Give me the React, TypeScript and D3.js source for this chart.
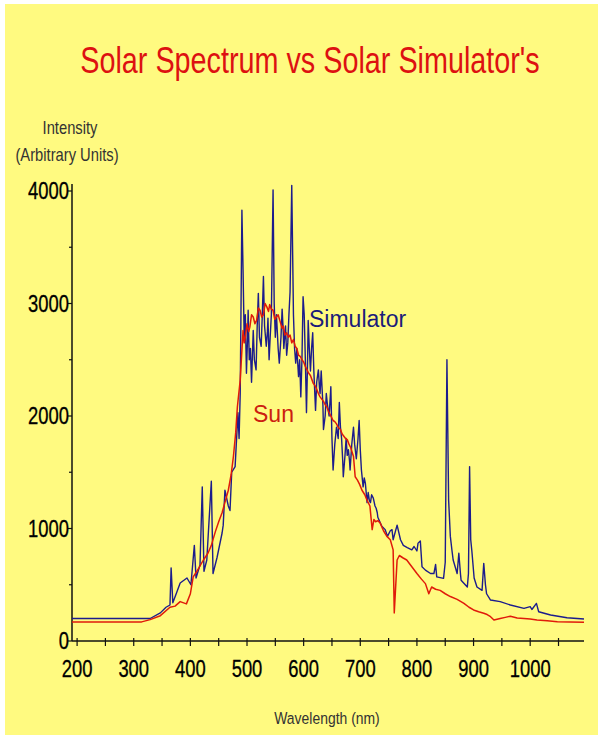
import React from "react";
import * as d3 from "d3";

// Wavelength (nm) and intensity (arbitrary units)
const sunNm = [191, 314, 329, 347, 364, 373, 382, 393, 400, 405, 414, 423, 431, 437, 444, 450, 456, 462, 467, 472, 476, 480, 483, 488, 493, 495, 497, 500, 503, 505, 508, 511, 514, 517, 520, 523, 526, 529, 532, 535, 538, 540, 543, 546, 549, 552, 555, 559, 562, 564, 567, 570, 573, 576, 579, 582, 585, 588, 591, 594, 597, 600, 603, 606, 609, 612, 617, 620, 623, 626, 629, 632, 635, 638, 641, 644, 647, 652, 655, 658, 661, 665, 668, 671, 674, 677, 680, 683, 688, 691, 695, 699, 703, 708, 712, 717, 721, 724, 727, 731, 735, 741, 747, 753, 758, 760, 765, 769, 775, 782, 791, 800, 808, 815, 821, 826, 833, 841, 850, 859, 871, 883, 892, 900, 909, 918, 924, 930, 936, 947, 956, 965, 977, 989, 1000, 1012, 1030, 1048, 1070, 1095];
const sunVal = [170, 170, 190, 225, 300, 310, 350, 330, 420, 570, 640, 720, 780, 850, 970, 1060, 1140, 1250, 1340, 1480, 1640, 1850, 2080, 2320, 2760, 2650, 2700, 2820, 2750, 2790, 2900, 2880, 2820, 2850, 2960, 2940, 2880, 2900, 3000, 2970, 2930, 2990, 2950, 2940, 2860, 2880, 2900, 2830, 2780, 2800, 2720, 2740, 2700, 2720, 2650, 2680, 2620, 2600, 2540, 2530, 2500, 2480, 2440, 2410, 2380, 2360, 2290, 2270, 2240, 2200, 2170, 2150, 2130, 2100, 2080, 2040, 2010, 1960, 1950, 1930, 1900, 1880, 1840, 1820, 1800, 1790, 1750, 1720, 1640, 1460, 1430, 1390, 1340, 1300, 1250, 1200, 990, 1080, 1060, 1070, 1050, 980, 930, 900, 810, 250, 720, 760, 740, 720, 660, 600, 550, 510, 420, 480, 460, 450, 420, 395, 370, 335, 300, 276, 260, 246, 235, 216, 187, 200, 210, 220, 205, 200, 195, 187, 180, 172, 168, 166];

const simNm = [191, 329, 347, 357, 364, 366, 369, 375, 382, 394, 401, 407, 410, 417, 421, 424, 429, 437, 440, 447, 456, 458, 461, 467, 470, 473, 479, 484, 486, 488, 491, 493, 495, 497, 499, 501, 502, 504, 506, 508, 511, 513, 516, 518, 520, 522, 525, 527, 529, 531, 534, 536, 537, 539, 541, 543, 546, 548, 550, 552, 553, 555, 557, 560, 562, 564, 565, 568, 570, 572, 574, 576, 579, 582, 584, 586, 588, 591, 593, 595, 597, 599, 601, 603, 605, 607, 608, 610, 612, 614, 616, 618, 621, 623, 626, 628, 629, 631, 632, 634, 635, 638, 640, 642, 645, 648, 650, 652, 655, 658, 661, 663, 665, 667, 669, 670, 673, 675, 677, 679, 681, 682, 685, 688, 690, 693, 696, 698, 700, 702, 705, 707, 709, 712, 714, 716, 718, 720, 723, 726, 728, 730, 731, 738, 744, 748, 753, 756, 758, 765, 771, 776, 783, 791, 795, 800, 802, 806, 809, 815, 824, 830, 833, 835, 847, 850, 853, 856, 859, 862, 864, 871, 874, 877, 878, 889, 891, 893, 895, 897, 901, 906, 915, 918, 921, 923, 930, 947, 965, 989, 1000, 1003, 1011, 1015, 1036, 1065, 1095];
const simVal = [200, 200, 250, 300, 320, 650, 340, 420, 515, 560, 500, 850, 560, 675, 1370, 620, 720, 1420, 600, 740, 960, 1030, 1340, 1200, 1160, 1500, 1550, 2030, 1800, 2200, 3830, 3300, 2700, 2900, 2380, 2700, 2940, 2500, 2600, 2300, 2760, 2500, 2410, 2800, 3090, 2700, 2620, 2900, 3240, 2800, 2620, 2750, 2870, 2500, 2710, 2900, 4010, 3000, 2700, 2900, 2800, 2600, 2470, 2700, 2950, 2750, 2600, 2800, 2540, 2650, 2900, 3100, 4050, 2900, 2600, 2470, 2600, 2350, 2500, 2170, 2500, 3060, 2900, 2500, 2030, 2500, 2850, 2600, 2400, 2600, 2740, 2400, 2050, 2300, 2410, 2250, 2200, 2400, 2300, 2100, 1880, 2000, 2200, 2100, 2000, 2260, 1800, 1520, 1750, 1900, 1800, 2120, 1900, 1800, 1600, 1460, 1650, 1800, 1650, 1700, 1600, 1520, 1750, 1900, 1750, 1620, 1800, 1960, 1700, 1520, 1370, 1450, 1400, 1230, 1320, 1250, 1230, 1300, 1270, 1200, 1180, 1140, 1100, 1020, 990, 930, 980, 990, 900, 1030, 900, 850, 830, 810, 840, 800, 870, 890, 660, 630, 600, 600, 680, 570, 557, 700, 2500, 1250, 930, 800, 720, 600, 780, 590, 540, 480, 600, 1550, 900, 800, 560, 480, 450, 690, 500, 420, 364, 350, 320, 290, 305, 280, 334, 260, 231, 207, 195];

const xTickMajor = [200, 300, 400, 500, 600, 700, 800, 900, 1000];
const xTickMinor = [250, 350, 450, 550, 650, 750, 850, 950, 1050];
const yTickMajor = [0, 1000, 2000, 3000, 4000];
const yTickMinor = [500, 1500, 2500, 3500];

const W = 603;
const H = 740;

export default function App() {
  const x = d3.scaleLinear().domain([191, 1095]).range([72, 584]);
  const y = d3.scaleLinear().domain([0, 4000]).range([641, 191]);

  const line = d3
    .line<[number, number]>()
    .x((d) => x(d[0]))
    .y((d) => y(d[1]));

  const sun: [number, number][] = sunNm.map((n, i) => [n, sunVal[i]]);
  const sim: [number, number][] = simNm.map((n, i) => [n, simVal[i]]);

  const font = "'Liberation Sans', Arial, sans-serif";
  const y0 = y(0);
  const x0 = x.range()[0];

  return (
    <svg
      width={W}
      height={H}
      style={{ position: "absolute", left: 0, top: 0 }}
      fontFamily={font}
    >
      <rect x={0} y={0} width={W} height={H} fill="#ffffff" />
      <rect x={5} y={4} width={593} height={731} fill="#fffa80" />

      <text
        transform="translate(310,73) scale(0.778,1)"
        fontSize={37}
        fill="#dd1111"
        textAnchor="middle"
      >
        Solar Spectrum vs Solar Simulator's
      </text>

      <text transform="translate(70,134) scale(0.82,1)" fontSize={18} fill="#333" textAnchor="middle">
        Intensity
      </text>
      <text transform="translate(67,161) scale(0.82,1)" fontSize={18} fill="#333" textAnchor="middle">
        (Arbitrary Units)
      </text>

      {/* axes */}
      <line x1={x0} x2={x0} y1={y0} y2={184} stroke="#111" strokeWidth={1.5} />
      <line x1={x0} x2={x.range()[1]} y1={y0} y2={y0} stroke="#111" strokeWidth={1.5} />

      {yTickMajor.map((v) => (
        <g key={"ym" + v}>
          <line x1={x0 - 4} x2={x0} y1={y(v)} y2={y(v)} stroke="#111" strokeWidth={1.2} />
          <text
            transform={`translate(${x0 - 3},${y(v) + 8}) scale(0.8,1)`}
            fontSize={23}
            fill="#000"
            stroke="#000"
            strokeWidth={0.3}
            textAnchor="end"
          >
            {v}
          </text>
        </g>
      ))}
      {yTickMinor.map((v) => (
        <line key={"yn" + v} x1={x0 - 3} x2={x0} y1={y(v)} y2={y(v)} stroke="#111" strokeWidth={1.2} />
      ))}

      {xTickMajor.concat(xTickMinor).map((v) => (
        <line key={"xt" + v} x1={x(v)} x2={x(v)} y1={y0 - 3} y2={y0 + 5} stroke="#111" strokeWidth={1.2} />
      ))}
      {xTickMajor.map((v) => (
        <text
          key={"xl" + v}
          transform={`translate(${x(v)},${y0 + 36}) scale(0.8,1)`}
          fontSize={23}
          fill="#000"
          stroke="#000"
          strokeWidth={0.3}
          textAnchor="middle"
        >
          {v}
        </text>
      ))}

      <text transform={`translate(327,724) scale(0.82,1)`} fontSize={17} fill="#333" textAnchor="middle">
        Wavelength (nm)
      </text>

      <path d={line(sim) || ""} fill="none" stroke="#1c1c8c" strokeWidth={1.4} strokeLinejoin="round" />
      <path d={line(sun) || ""} fill="none" stroke="#e01a0a" strokeWidth={1.5} strokeLinejoin="round" />

      <text x={309} y={327} fontSize={23} fill="#1c1c7a">
        Simulator
      </text>
      <text x={253} y={422} fontSize={23} fill="#cc2010">
        Sun
      </text>
    </svg>
  );
}
